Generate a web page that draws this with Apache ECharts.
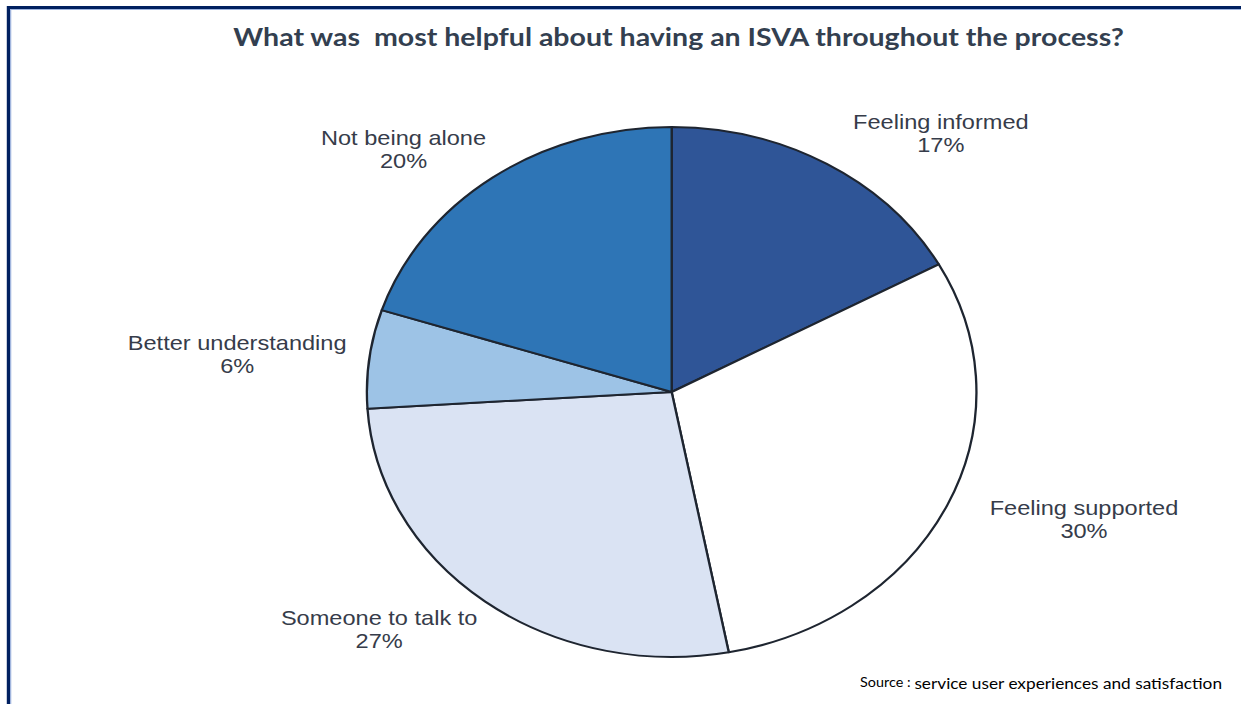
<!DOCTYPE html>
<html>
<head>
<meta charset="utf-8">
<title>What was most helpful about having an ISVA throughout the process?</title>
<script src="https://cdn.jsdelivr.net/npm/echarts@6/dist/echarts.min.js"></script>
<style>
  html, body { margin: 0; padding: 0; background: #ffffff; overflow: hidden; }
  #wrap { width: 1241px; height: 704px; overflow: hidden; position: relative; }
  /* the chart is laid out on a narrower canvas and widened, which turns the pie into the wide oval */
  #chart { width: 1079px; height: 704px; transform: scaleX(1.1501); transform-origin: 0 0; }
</style>
</head>
<body>
<div id="wrap"><div id="chart"></div></div>
<script>
// Answers and their share of responses (%)
const categories = ['Feeling informed', 'Feeling supported', 'Someone to talk to', 'Better understanding', 'Not being alone'];
const shares = [17, 30, 27, 6, 20];
const sliceColors = ['#2F5597', '#FFFFFF', '#DAE3F3', '#9DC3E6', '#2E75B6'];

const titleText = 'What was  most helpful about having an ISVA throughout the process?';
const sourceLabel = 'Source :';
const sourceText = 'service user experiences and satisfaction';

const PIE_CX = 584;
const PIE_CY = 392;

const chart = echarts.init(document.getElementById('chart'), null, { renderer: 'svg' });

const pieData = categories.map((name, i) => ({
  name: name,
  value: shares[i],
  itemStyle: { color: sliceColors[i] }
}));

chart.setOption({
  animation: false,
  backgroundColor: '#ffffff',
  title: {
    text: titleText,
    left: 585,
    top: 19,
    textAlign: 'center',
    textStyle: {
      fontFamily: 'Lato',
      fontWeight: 'bold',
      fontSize: 24.8,
      color: '#333F50'
    }
  },
  graphic: [
    {
      type: 'rect',
      silent: true,
      shape: { x: 7.4, y: 7.5, width: 1400, height: 900 },
      style: { fill: 'none', stroke: '#002060', lineWidth: 3 }
    },
    {
      type: 'rect',
      silent: true,
      shape: { x: 9.3, y: 9.5, width: 1400, height: 900 },
      style: { fill: 'none', stroke: '#9DB3DE', lineWidth: 1 }
    },
    {
      type: 'text',
      silent: true,
      right: 16,
      top: 675,
      style: {
        text: '{a|' + sourceLabel + '} {b|' + sourceText + '}',
        rich: {
          a: { fontFamily: 'Lato', fontSize: 12.5, color: '#44546A' },
          b: { fontFamily: 'Lato', fontSize: 15, color: '#1F3864' }
        }
      }
    }
  ],
  series: [{
    type: 'pie',
    center: [PIE_CX, PIE_CY],
    radius: 265,
    startAngle: 90,
    clockwise: true,
    avoidLabelOverlap: false,
    data: pieData,
    itemStyle: { borderColor: '#1E2530', borderWidth: 2 },
    label: {
      show: true,
      position: 'outside',
      formatter: '{b}\n{c}%',
      fontFamily: 'Liberation Sans',
      fontSize: 20.5,
      lineHeight: 23,
      color: '#363C4A',
      distanceToLabelLine: 5
    },
    labelLine: { show: false, length: 35, length2: 0 },
    // centre each two-line label on its own box; labels on the left side sit a little closer in
    labelLayout: function (p) {
      const r = p.labelRect;
      const midX = r.x + r.width / 2;
      const inward = midX < PIE_CX ? 20 : 0;
      return { x: midX + inward, y: r.y + r.height / 2, align: 'center', verticalAlign: 'middle' };
    },
    emphasis: { disabled: true }
  }]
});
</script>
</body>
</html>
